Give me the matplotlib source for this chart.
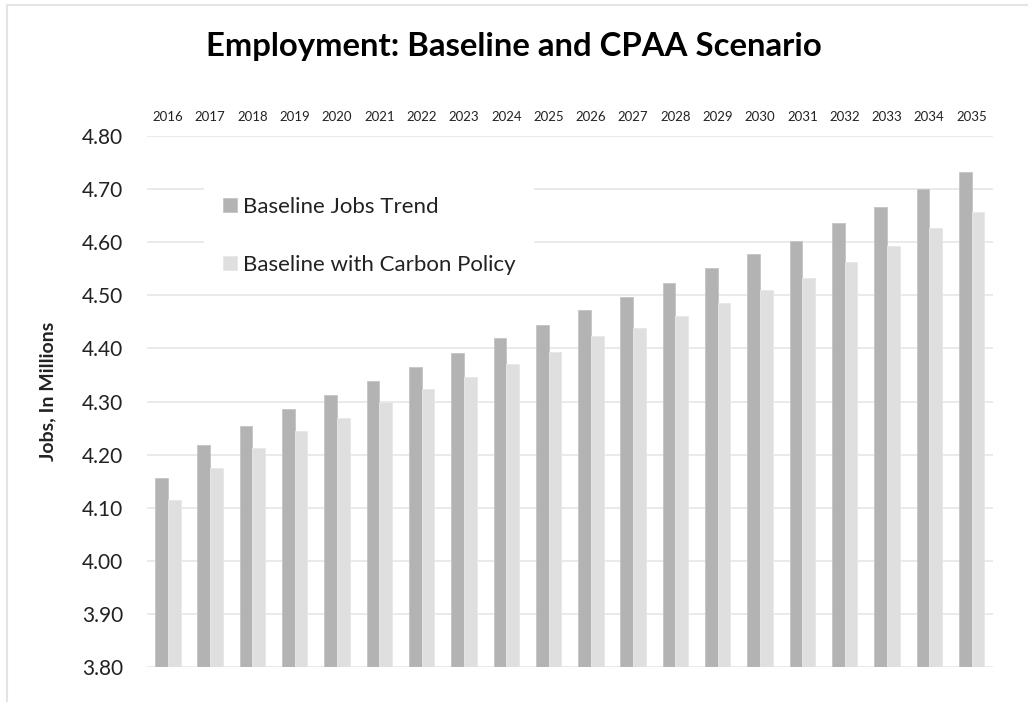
import numpy as np
import matplotlib
matplotlib.use("Agg")
import matplotlib.pyplot as plt
from matplotlib.lines import Line2D

plt.rcParams['font.family'] = ['Lato', 'DejaVu Sans']

years = [str(y) for y in range(2016, 2036)]
baseline_jobs = [4.157, 4.218, 4.255, 4.286, 4.313, 4.339, 4.365, 4.391, 4.419, 4.445,
                 4.472, 4.497, 4.524, 4.551, 4.577, 4.603, 4.636, 4.667, 4.700, 4.732]
carbon_policy = [4.114, 4.175, 4.212, 4.244, 4.270, 4.300, 4.323, 4.346, 4.370, 4.393,
                 4.424, 4.438, 4.462, 4.485, 4.510, 4.533, 4.562, 4.592, 4.627, 4.656]
y_ticks = [3.80, 3.90, 4.00, 4.10, 4.20, 4.30, 4.40, 4.50, 4.60, 4.70, 4.80]

dark = "#b3b3b3"
light = "#dfdfdf"

fig = plt.figure(figsize=(10.28, 7.02), dpi=100)
ax = fig.add_axes([0.1427, 0.0494, 0.823, 0.757])

x = np.arange(len(years))
w = 0.3
ax.bar(x - w / 2, baseline_jobs, w, color=dark, edgecolor="#c4c4c4", linewidth=0.6,
       label="Baseline Jobs Trend", zorder=2)
ax.bar(x + w / 2, carbon_policy, w, color=light, edgecolor="#e8e8e8", linewidth=0.6,
       label="Baseline with Carbon Policy", zorder=2)

ax.set_xlim(-0.5, len(years) - 0.5)
ax.set_ylim(3.80, 4.80)
ax.set_yticks(y_ticks)
ax.set_yticklabels([f"{v:.2f}" for v in y_ticks], fontsize=15, color="#222222")
ax.yaxis.grid(True, color="#e6e6e6", linewidth=1.2, zorder=0)
ax.set_axisbelow(True)

# year labels sit above the plot
ax.xaxis.tick_top()
ax.set_xticks(x)
ax.set_xticklabels(years, fontsize=9.5, color="#222222")
ax.tick_params(axis="x", length=0, pad=9)
ax.tick_params(axis="y", length=0, pad=17)
for s in ax.spines.values():
    s.set_visible(False)

leg = ax.legend(loc="upper left", bbox_to_anchor=(0.0677, 0.921), fontsize=16,
                frameon=True, facecolor="white", edgecolor="none", framealpha=1,
                handlelength=0.63, handleheight=0.63, handletextpad=0.27,
                labelspacing=1.71, borderpad=0.85, borderaxespad=0)
leg.get_frame().set_boxstyle("square", pad=0)
for t in leg.get_texts():
    t.set_color("#222222")

fig.text(0.046, 0.443, "Jobs, In Millions", rotation=90, fontsize=14,
         fontweight="bold", ha="center", va="center", color="#222222")
fig.text(0.4995, 0.934, "Employment: Baseline and CPAA Scenario", fontsize=23.7,
         fontweight="bold", ha="center", va="center", color="black")

# light chart-area border on the top and left
fig.add_artist(Line2D([7 / 1028, 1], [1 - 5 / 702, 1 - 5 / 702], color="#e4e4e4", linewidth=1.5))
fig.add_artist(Line2D([7 / 1028, 7 / 1028], [0, 1 - 5 / 702], color="#e4e4e4", linewidth=1.5))

fig.savefig("out.png", dpi=100, facecolor="white")
